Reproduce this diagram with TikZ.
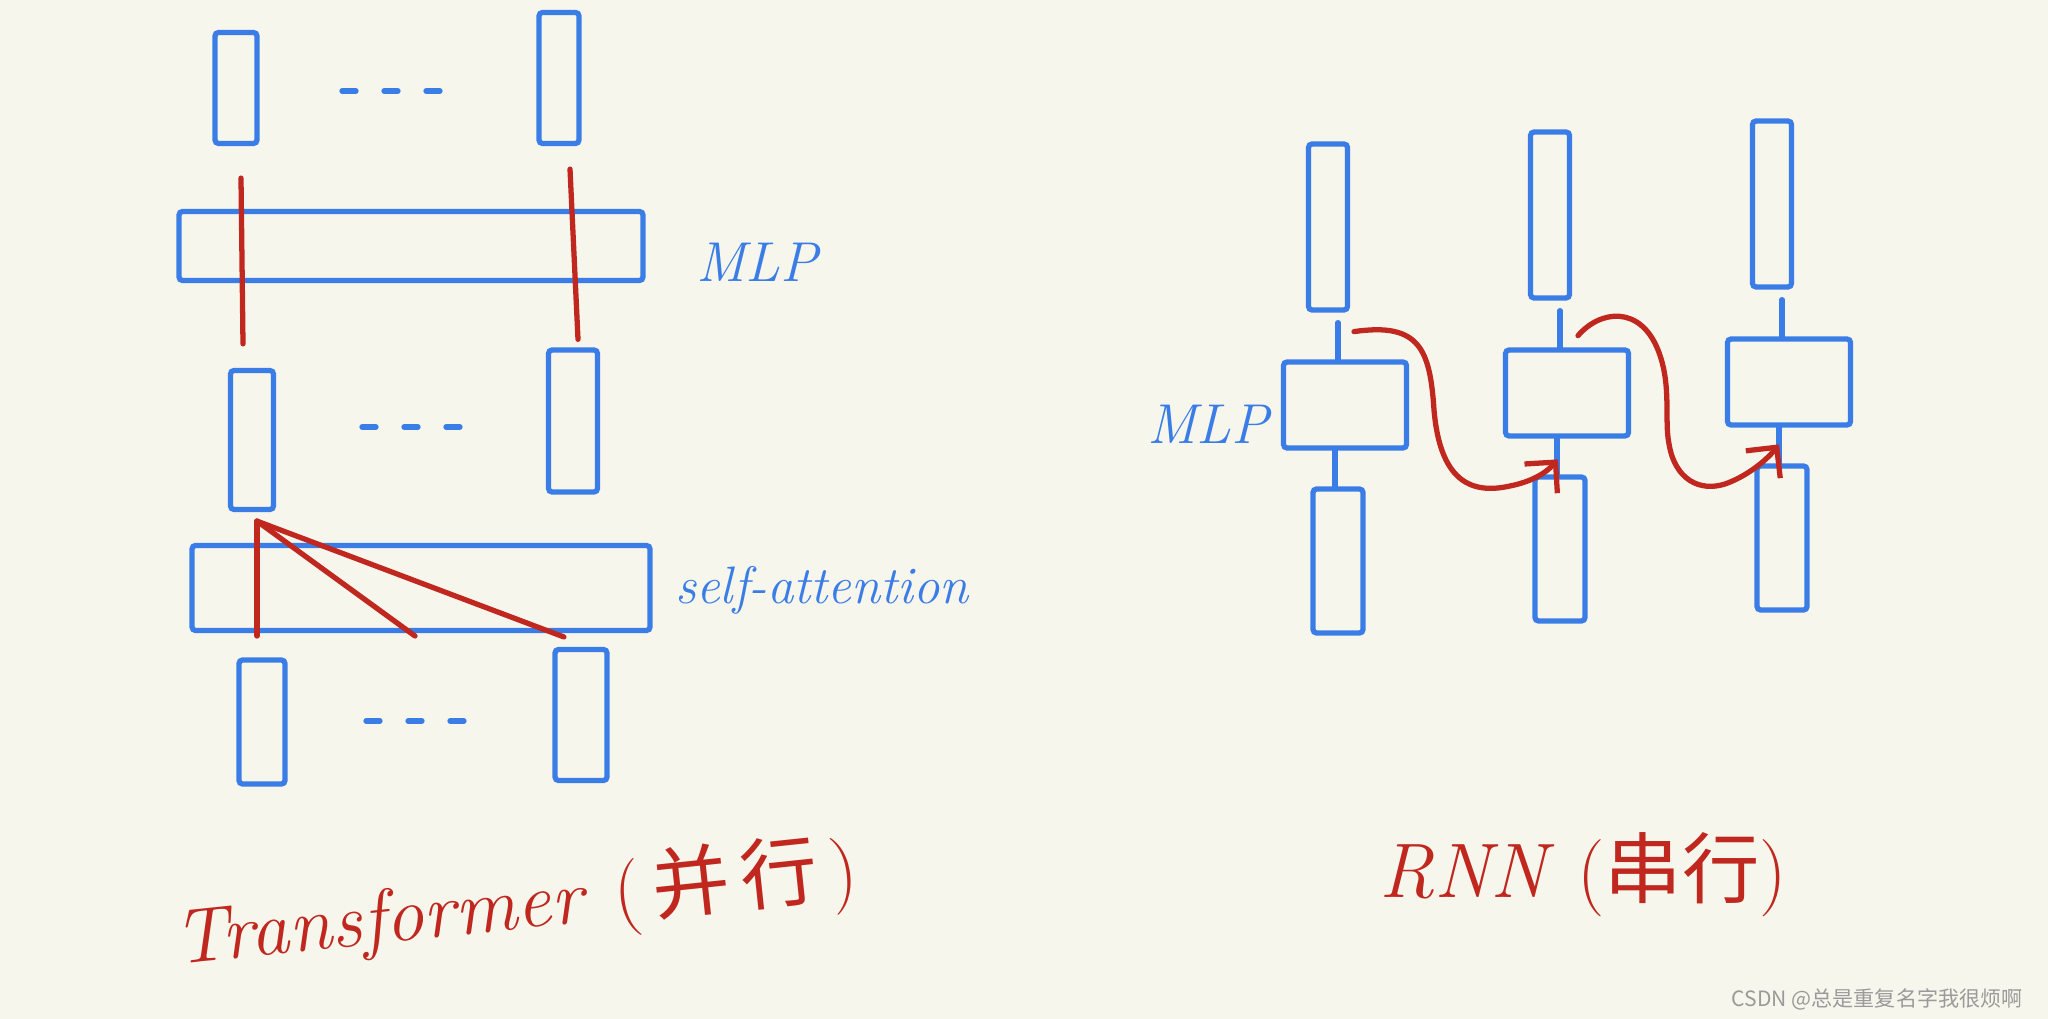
\documentclass[tikz,border=0pt]{standalone}
\usepackage{fontspec}
\usepackage{tikz}
\usetikzlibrary{calc}
\usetikzlibrary{arrows.meta}
\newfontfamily\cjk{Noto Sans CJK SC}

\definecolor{papel}{HTML}{F7F6EC}
\definecolor{azul}{HTML}{3B7DE6}
\definecolor{vermelho}{HTML}{C0281F}
\definecolor{marca}{HTML}{9A9A9A}

\begin{document}
\begin{tikzpicture}[x=0.1mm, y=-0.1mm]

    % Fundo e limites do desenho
    \fill[papel] (0,0) rectangle (2048,1019);
    \useasboundingbox (0,0) rectangle (2048,1019);

    % Espessura dos traços
    \def\lw{1.5pt}

    % Estilo de bloco retangular (azul)
    \tikzstyle{block} = [
      draw=azul, rectangle, line width=\lw, rounded corners=1pt, inner sep=0pt
    ];

    % Estilos das ligações e dos textos
    \tikzstyle{link} = [draw=azul, line width=\lw, line cap=round];
    \tikzstyle{flow} = [draw=vermelho, line width=\lw, line cap=round];
    \tikzstyle{dots} = [draw=azul, line width=\lw, line cap=round, dash pattern=on 1.4mm off 2.8mm];
    \tikzstyle{hand} = [text=azul, font=\itshape\fontsize{16}{19}\selectfont];
    \tikzstyle{title} = [text=vermelho, inner sep=0pt, font=\itshape\fontsize{22}{26}\selectfont];

    % ---- Transformer (paralelo) ----
    \node[block, minimum width=4.2mm, minimum height=11.1mm] (tl) at (236,88) {};
    \node[block, minimum width=4.0mm, minimum height=13.1mm] (tr) at (559,78) {};
    \draw[dots] (342,91) -- (444,91);

    \node[block, minimum width=46.4mm, minimum height=6.9mm] (mlp) at (411,246) {};
    \node[hand] (lmlp) at (757,262) {MLP};

    \node[block, minimum width=4.3mm, minimum height=13.9mm] (ml) at (252,440) {};
    \node[block, minimum width=4.9mm, minimum height=14.2mm] (mr) at (573,421) {};
    \draw[dots] (362,427) -- (460,427);

    \node[block, minimum width=45.8mm, minimum height=8.5mm] (att) at (421,588) {};
    \node[hand, font=\itshape\fontsize{15}{18}\selectfont] (latt) at (822,590) {self-attention};

    \node[block, minimum width=4.6mm, minimum height=12.4mm] (bl) at (262,722) {};
    \node[block, minimum width=5.2mm, minimum height=13.1mm] (br) at (581,715) {};
    \draw[dots] (366,721) -- (477,721);

    % Ligações vermelhas atravessando o MLP
    \draw[flow] ($(tl.south)+(5,32)$) -- ($(ml.north)+(-9,-24)$);
    \draw[flow] ($(tr.south)+(11,23)$) -- ($(mr.north)+(5,-8)$);

    % Atenção: um token olha para todos
    \coordinate (q) at ($(ml.south)+(5,9)$);
    \coordinate (k1) at (257,636);
    \coordinate (k2) at (415,636);
    \coordinate (k3) at (564,637);
    \foreach \k in {k1,k2,k3}
      \draw[flow] (q) -- (\k);

    % Título da esquerda, inclinado
    \node[title, rotate=6, anchor=base west] (ltrans) at (176,965) {Transformer};
    \node[title, rotate=6, anchor=base west] (lpar)
      at ($(ltrans.base east)+(30,-3)$) {\upshape(\hspace{0.15em}{\cjk 并\hspace{0.15em}行}\hspace{0.15em})};

    % ---- RNN (serial) ----
    \foreach \i/\x/\y in {1/0/0, 2/222/-12, 3/444/-23}
    {
      \node[block, minimum width=3.9mm, minimum height=16.6mm] (t\i) at (1328+\x,227+\y) {};
      \node[block, minimum width=12.3mm, minimum height=8.6mm] (m\i) at (1345+\x,405+\y) {};
      \node[block, minimum width=5.0mm, minimum height=14.4mm] (b\i) at (1338+\x,561+\y) {};
      % Ligações entre os blocos de cada passo
      \draw[link] ($(t\i.south)+(10,10)$) -- ($(m\i.north)+(-7,0)$);
      \draw[link] ($(m\i.south)+(-10,0)$) -- ($(b\i.north)+(-3,0)$);
    }

    \node[hand] (rmlp) at (1208,424) {MLP};

    % Estado passado de um passo para o seguinte
    \coordinate (h1) at ($(t1.south)+(26,19)$);
    \coordinate (h2) at ($(t2.south)+(28,35)$);
    \draw[flow, -{Straight Barb[length=2.2mm]}] (h1)
      .. controls (1420,322) and (1430,350) .. (1434,410)
      .. controls (1440,480) and (1470,495) .. (1510,486)
      .. controls (1530,482) and (1545,474) .. ($(b2.north)+(-2,-15)$);
    \draw[flow, -{Straight Barb[length=2.2mm]}] (h2)
      .. controls (1600,310) and (1640,305) .. (1658,350)
      .. controls (1672,385) and (1664,420) .. (1669,444)
      .. controls (1675,480) and (1700,492) .. (1725,484)
      .. controls (1745,477) and (1765,462) .. ($(b3.north)+(-3,-19)$);

    \node[title] (lrnn) at (1583,875) {RNN\hspace{0.4em}{\upshape({\cjk 串行})}};

    % Marca d'água
    \node[anchor=east, text=marca, font=\cjk\fontsize{6}{7}\selectfont] (wm) at (2035,999) {CSDN @总是重复名字我很烦啊};

\end{tikzpicture}
\end{document}
